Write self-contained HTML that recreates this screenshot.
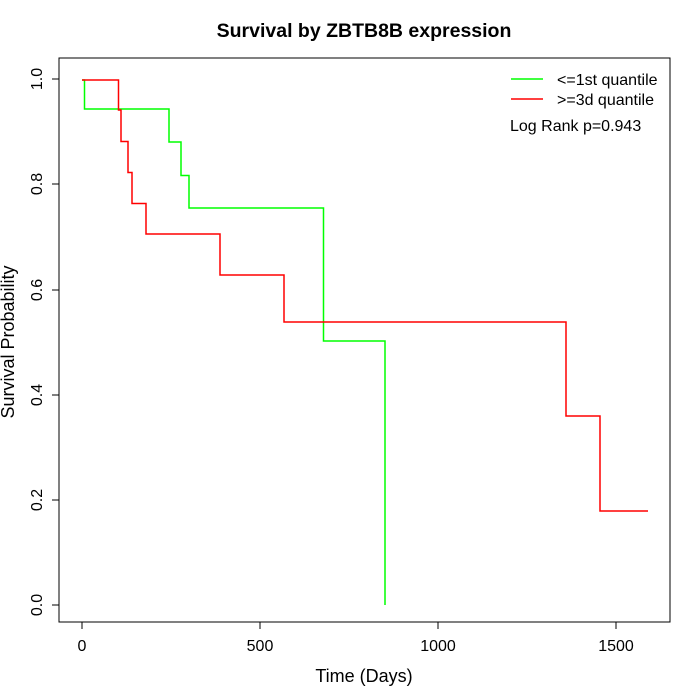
<!DOCTYPE html>
<html><head><style>body{margin:0;background:#fff}svg{display:block}</style></head><body>
<svg width="700" height="700" xmlns="http://www.w3.org/2000/svg" font-family="Liberation Sans, sans-serif">
<rect width="700" height="700" fill="#fff"/>
<text x="364" y="37" text-anchor="middle" font-size="19.5" font-weight="bold">Survival by ZBTB8B expression</text>
<rect x="59" y="58" width="611" height="564" fill="none" stroke="#000"/>
<g stroke="#000">
<line x1="82" y1="622" x2="616" y2="622"/>
<line x1="82" y1="622" x2="82" y2="629"/><line x1="260" y1="622" x2="260" y2="629"/><line x1="438" y1="622" x2="438" y2="629"/><line x1="616" y1="622" x2="616" y2="629"/>
<line x1="59" y1="79" x2="59" y2="605"/>
<line x1="52" y1="79" x2="59" y2="79"/><line x1="52" y1="184" x2="59" y2="184"/><line x1="52" y1="290" x2="59" y2="290"/><line x1="52" y1="395" x2="59" y2="395"/><line x1="52" y1="500" x2="59" y2="500"/><line x1="52" y1="605" x2="59" y2="605"/>
</g>
<g font-size="16" text-anchor="middle">
<text x="82" y="651">0</text><text x="260" y="651">500</text><text x="438" y="651">1000</text><text x="616" y="651">1500</text>
</g>
<text x="364" y="682" font-size="18" text-anchor="middle">Time (Days)</text>
<g font-size="16" text-anchor="middle">
<text transform="translate(42,79) rotate(-90)">1.0</text>
<text transform="translate(42,184) rotate(-90)">0.8</text>
<text transform="translate(42,290) rotate(-90)">0.6</text>
<text transform="translate(42,395) rotate(-90)">0.4</text>
<text transform="translate(42,500) rotate(-90)">0.2</text>
<text transform="translate(42,605) rotate(-90)">0.0</text>
</g>
<text transform="translate(14,342) rotate(-90)" font-size="18" text-anchor="middle">Survival Probability</text>
<polyline fill="none" stroke="#00ff00" stroke-width="1.5" points="82,80 84.5,80 84.5,109 169,109 169,142 181,142 181,175.5 189,175.5 189,208 323.5,208 323.5,341 385,341 385,605"/>
<polyline fill="none" stroke="#ff0000" stroke-width="1.5" points="82,80 118.5,80 118.5,110 121,110 121,141.5 128,141.5 128,172.5 132,172.5 132,203.5 146,203.5 146,234 220,234 220,275 284,275 284,322 566,322 566,416 600,416 600,511 648,511"/>
<line x1="511" y1="79" x2="543" y2="79" stroke="#00ff00" stroke-width="1.5"/>
<line x1="511" y1="99" x2="543" y2="99" stroke="#ff0000" stroke-width="1.5"/>
<g font-size="16">
<text x="557" y="85">&lt;=1st quantile</text>
<text x="557" y="105">&gt;=3d quantile</text>
<text x="510" y="131">Log Rank p=0.943</text>
</g>
</svg>
</body></html>
